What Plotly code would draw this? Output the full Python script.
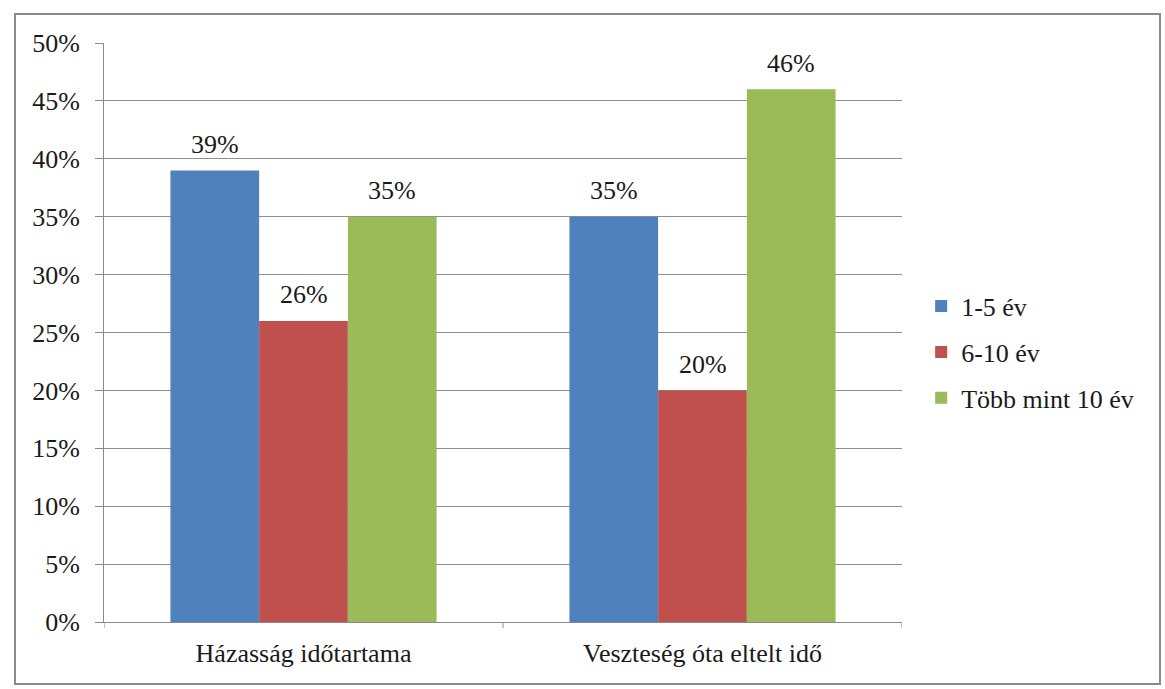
import plotly.graph_objects as go

categories = ["Házasság időtartama", "Veszteség óta eltelt idő"]
series_names = ["1-5 év", "6-10 év", "Több mint 10 év"]
series_values = [
    [39, 35],
    [26, 20],
    [35, 46],
]
colors = ["#4F81BD", "#C0504D", "#9BBB59"]
y_ticks = [0, 5, 10, 15, 20, 25, 30, 35, 40, 45, 50]
y_ticklabels = [f"{v}%" for v in y_ticks]

FONT = "'Times New Roman', 'Liberation Serif', serif"
BARGAP = 0.333
FS = 26

fig = go.Figure()
for k, (name, vals, col) in enumerate(zip(series_names, series_values, colors)):
    fig.add_trace(go.Bar(
        x=list(range(len(categories))), y=vals, name=name,
        marker=dict(color=col, line=dict(width=0)),
        legendgroup=f"g{k}",
    ))

# data labels above bars
w = (1 - BARGAP) / len(series_names)
annotations = []
for k, vals in enumerate(series_values):
    for i, v in enumerate(vals):
        annotations.append(dict(
            x=i + (k - (len(series_names) - 1) / 2) * w, y=v, xref="x", yref="y",
            text=f"{v}%", showarrow=False, yanchor="middle", yshift=26,
            font=dict(family=FONT, size=FS, color="#1a1a1a"),
        ))

fig.update_layout(
    width=1165, height=689,
    margin=dict(l=104, r=263, t=43, b=67),
    paper_bgcolor="white", plot_bgcolor="white",
    barmode="group", bargap=BARGAP, bargroupgap=0,
    font=dict(family=FONT, size=FS, color="#1a1a1a"),
    showlegend=True,
    legend=dict(
        x=1.024, y=0.466, xanchor="left", yanchor="middle",
        font=dict(family=FONT, size=FS, color="#1a1a1a"),
        tracegroupgap=9, bgcolor="rgba(0,0,0,0)",
    ),
    annotations=annotations,
    shapes=[dict(
        type="rect", xref="paper", yref="paper",
        x0=(15 - 104) / 798, x1=(1160 - 104) / 798,
        y0=(622 - 684) / 579, y1=(622 - 14) / 579,
        line=dict(color="#8a8a8a", width=2), layer="below",
    )],
)

fig.update_xaxes(
    range=[-0.5, 1.5],
    tickmode="array", tickvals=list(range(len(categories))), ticktext=categories,
    showgrid=False, showline=True, linecolor="#8a8a8a", linewidth=1,
    ticks="", zeroline=False, ticklabelstandoff=8,
    tickfont=dict(family=FONT, size=FS, color="#1a1a1a"),
)
# boundary tick marks on x axis
for bx in [-0.5, 0.5, 1.5]:
    fig.add_shape(type="line", xref="x", yref="paper", x0=bx, x1=bx,
                  y0=0, y1=-6 / 579, line=dict(color="#8a8a8a", width=1))

fig.update_yaxes(
    range=[0, 50], tickmode="array", tickvals=y_ticks, ticktext=y_ticklabels,
    showgrid=True, gridcolor="#8f8f8f", gridwidth=1,
    showline=True, linecolor="#8a8a8a", linewidth=1,
    ticks="outside", ticklen=8, tickcolor="#8a8a8a",
    ticklabelstandoff=10, zeroline=False,
    tickfont=dict(family=FONT, size=FS, color="#1a1a1a"),
)

fig.write_html("out.html")
